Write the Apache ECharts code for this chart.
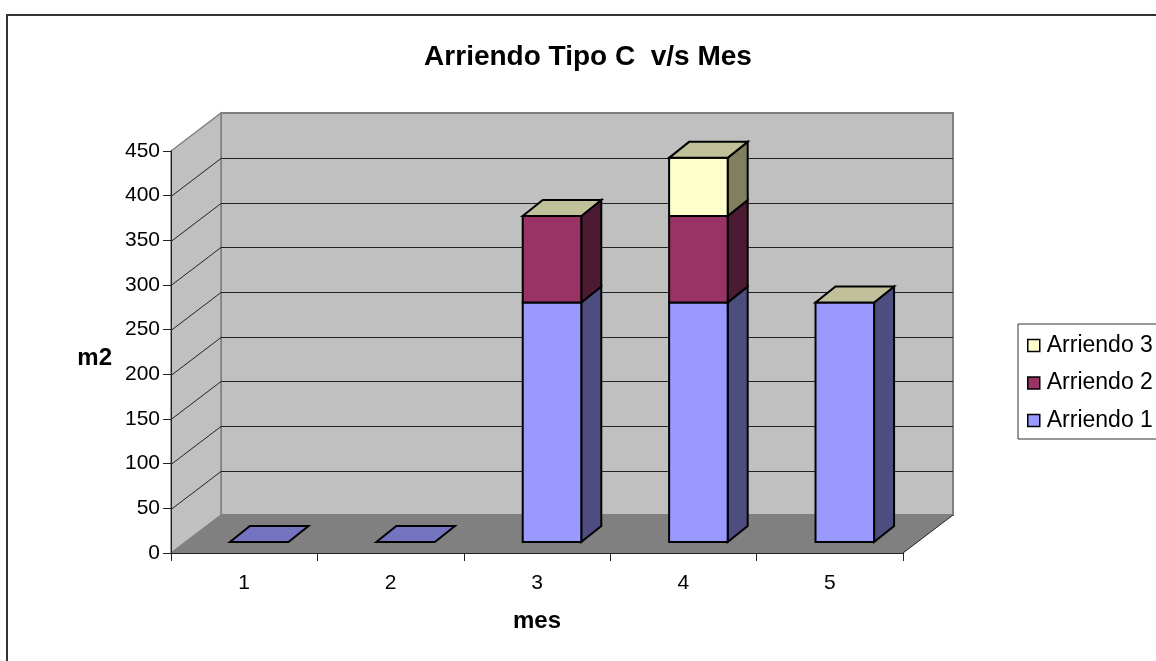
<!DOCTYPE html>
<html>
<head>
<meta charset="utf-8">
<style>html,body{margin:0;padding:0;background:#fff}#c{width:1156px;height:661px}</style>
<script src="https://cdn.jsdelivr.net/npm/echarts@6/dist/echarts.min.js"></script>
</head>
<body>
<div id="c"></div>
<script>
// Monthly rented area, stacked by lease
const months = ['1', '2', '3', '4', '5'];
const arriendo1 = [0, 0, 268, 268, 268];
const arriendo2 = [null, null, 97, 97, 0];
const arriendo3 = [null, null, 0, 65, 0];
const yTicks = [0, 50, 100, 150, 200, 250, 300, 350, 400, 450];

// Oblique projection of the box and of the columns standing in it
const WALL_DX = 50, WALL_DY = 38;
const BAR_SHIFT_X = 15, BAR_SHIFT_Y = 11;
const BAR_DX = 20, BAR_DY = 16;
const BAR_RATIO = 0.4;
const FONT = '"Liberation Sans", Arial, sans-serif';

const leases = [
  { name: 'Arriendo 1', values: arriendo1, front: '#9999ff', side: '#4d4d80', top: '#7373bf' },
  { name: 'Arriendo 2', values: arriendo2, front: '#993366', side: '#4d1a33', top: '#732650' },
  { name: 'Arriendo 3', values: arriendo3, front: '#ffffcc', side: '#80805f', top: '#c0c09a' }
];

function poly(points, fill, stroke, width) {
  return {
    type: 'polygon',
    shape: { points },
    style: { fill, stroke: stroke || null, lineWidth: width || 0, lineJoin: 'miter' }
  };
}

// Back wall, side wall and floor
function renderBox(params, api) {
  const cs = params.coordSys;
  const yBase = api.coord([0, yTicks[0]])[1];
  const yTop = api.coord([0, yTicks[yTicks.length - 1]])[1];
  const l = cs.x, r = cs.x + cs.width;
  return {
    type: 'group',
    children: [
      poly([[l + WALL_DX, yTop - WALL_DY], [r + WALL_DX, yTop - WALL_DY], [r + WALL_DX, yBase - WALL_DY], [l + WALL_DX, yBase - WALL_DY]], '#c0c0c0', '#808080', 2),
      poly([[l, yBase], [l + WALL_DX, yBase - WALL_DY], [l + WALL_DX, yTop - WALL_DY], [l, yTop]], '#c0c0c0', '#808080', 1.5),
      poly([[l, yBase], [r, yBase], [r + WALL_DX, yBase - WALL_DY], [l + WALL_DX, yBase - WALL_DY]], '#808080'),
      { type: 'line', shape: { x1: r, y1: yBase, x2: r + WALL_DX, y2: yBase - WALL_DY }, style: { stroke: '#222', lineWidth: 1 } }
    ]
  };
}

// One gridline per tick, folded across the side wall and the back wall
function renderGridline(params, api) {
  const cs = params.coordSys;
  const v = api.value(0);
  if (v === yTicks[0] || v === yTicks[yTicks.length - 1]) return null;
  const y = Math.ceil(api.coord([0, v])[1]) + 0.5;
  const l = cs.x, r = cs.x + cs.width;
  return {
    type: 'polyline',
    shape: { points: [[l, y], [l + WALL_DX, y - WALL_DY], [r + WALL_DX, y - WALL_DY]] },
    style: { fill: null, stroke: '#222', lineWidth: 1 }
  };
}

// A column segment: front and side faces, plus a cap on the highest segment
function renderSegment(lease, idx) {
  return function (params, api) {
    const cat = api.value(0);
    const halfW = api.size([1, 0])[0] * BAR_RATIO / 2;
    const bottom = api.coord([cat, api.value(1)]);
    const top = api.coord([cat, api.value(2)]);
    const x0 = bottom[0] + BAR_SHIFT_X - halfW;
    const x1 = bottom[0] + BAR_SHIFT_X + halfW;
    const yb = bottom[1] - BAR_SHIFT_Y;
    const yt = top[1] - BAR_SHIFT_Y;
    const isCap = leases.slice(idx + 1).every(o => o.values[cat] === null);
    const children = [];
    if (yb - yt > 0.5) {
      children.push(poly([[x1, yb], [x1 + BAR_DX, yb - BAR_DY], [x1 + BAR_DX, yt - BAR_DY], [x1, yt]], lease.side, '#000', 2));
      children.push(poly([[x0, yb], [x1, yb], [x1, yt], [x0, yt]], lease.front, '#000', 2));
    }
    if (isCap) {
      children.push(poly([[x0, yt], [x1, yt], [x1 + BAR_DX, yt - BAR_DY], [x0 + BAR_DX, yt - BAR_DY]], lease.top, '#000', 2));
    }
    return { type: 'group', children };
  };
}

// Stack the values, skipping months where a lease does not exist
const running = months.map(() => 0);
const barSeries = leases.map((lease, idx) => {
  const data = [];
  lease.values.forEach((v, i) => {
    if (v === null) return;
    data.push([i, running[i], running[i] + v]);
    running[i] += v;
  });
  return {
    type: 'custom',
    name: lease.name,
    z: 3 + idx,
    silent: true,
    encode: { x: 0, y: [1, 2] },
    itemStyle: { color: lease.front },
    renderItem: renderSegment(lease, idx),
    data
  };
});

const chart = echarts.init(document.getElementById('c'), null, { renderer: 'canvas' });
chart.setOption({
  animation: false,
  backgroundColor: '#ffffff',
  textStyle: { fontFamily: FONT, color: '#000' },
  title: {
    text: 'Arriendo Tipo C  v/s Mes',
    left: 583,
    top: 38,
    textAlign: 'center',
    textStyle: { fontFamily: FONT, fontSize: 28, fontWeight: 'bold', color: '#000' }
  },
  graphic: [{
    type: 'rect',
    z: -1,
    silent: true,
    shape: { x: 7, y: 15, width: 1300, height: 800 },
    style: { fill: '#fff', stroke: '#333', lineWidth: 2 }
  }],
  legend: {
    orient: 'vertical',
    left: 1018,
    top: 324,
    padding: [10, 14, 7, 9],
    itemWidth: 12,
    itemHeight: 12,
    itemGap: 14.5,
    backgroundColor: '#fff',
    borderColor: '#333',
    borderWidth: 1,
    borderRadius: 0,
    selectedMode: false,
    textStyle: { fontFamily: FONT, fontSize: 23, color: '#000', padding: [0, 0, 8, 2] },
    data: leases.slice().reverse().map(o => ({
      name: o.name,
      icon: 'rect',
      itemStyle: { color: o.front, borderColor: '#000', borderWidth: 1.5 }
    }))
  },
  grid: { left: 171, top: 151, width: 732, height: 402, containLabel: false },
  xAxis: {
    type: 'category',
    data: months,
    z: 8,
    name: 'mes',
    nameLocation: 'middle',
    nameGap: 56,
    nameTextStyle: { fontFamily: FONT, fontSize: 24, fontWeight: 'bold', color: '#000' },
    axisLine: { show: true, lineStyle: { color: '#222', width: 1 } },
    axisTick: { show: true, length: 8, alignWithLabel: false, lineStyle: { color: '#222', width: 1 } },
    axisLabel: { fontFamily: FONT, fontSize: 21, color: '#000', margin: 20, interval: 0 },
    splitLine: { show: false }
  },
  yAxis: {
    type: 'value',
    min: 0,
    max: 450,
    interval: 50,
    z: 8,
    name: 'm2',
    nameLocation: 'middle',
    nameRotate: 0,
    nameGap: 59,
    nameTextStyle: { fontFamily: FONT, fontSize: 24, fontWeight: 'bold', color: '#000', verticalAlign: 'top', lineHeight: 12 },
    axisLine: { show: true, lineStyle: { color: '#222', width: 1 } },
    axisTick: { show: true, length: 8, lineStyle: { color: '#222', width: 1 } },
    axisLabel: { fontFamily: FONT, fontSize: 21, color: '#000', margin: 11 },
    splitLine: { show: false }
  },
  series: [
    { type: 'custom', z: 1, silent: true, renderItem: renderBox, data: [[0]], encode: { x: 0 }, legendHoverLink: false },
    { type: 'custom', z: 2, silent: true, renderItem: renderGridline, data: yTicks.map(v => [v]), encode: {} }
  ].concat(barSeries)
});
</script>
</body>
</html>
